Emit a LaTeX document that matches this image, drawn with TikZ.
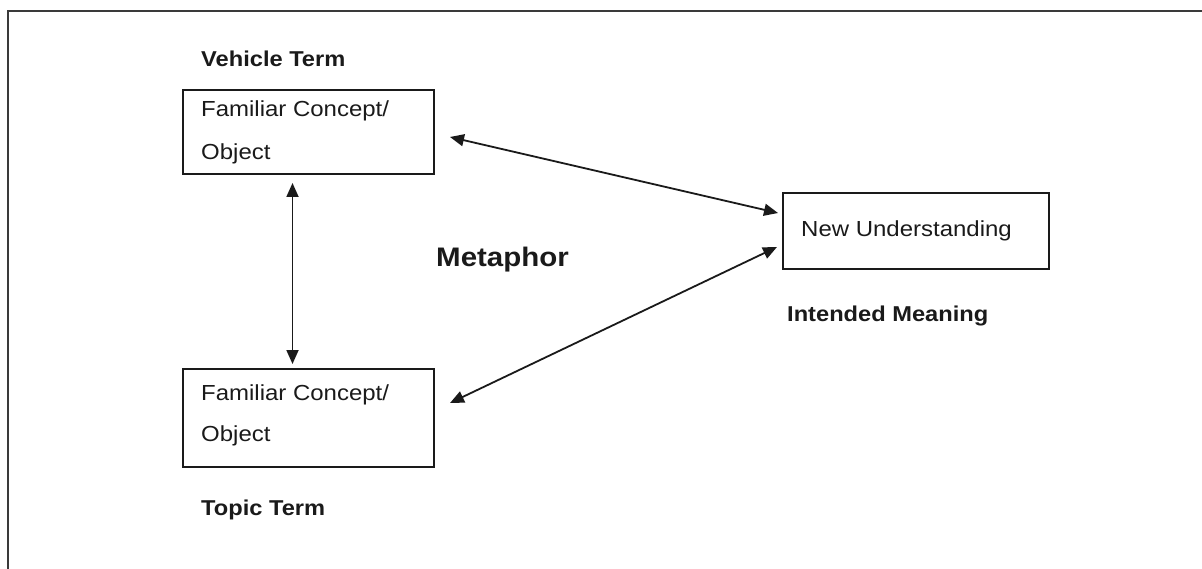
\documentclass[tikz,border=0pt]{standalone}
\usepackage{fontspec}
\setmainfont{Liberation Sans}[FakeStretch=1.1]
\usetikzlibrary{arrows.meta}
\definecolor{ink}{HTML}{1A1A1A}
\definecolor{frame}{HTML}{3A3A3A}
\begin{document}
\begin{tikzpicture}[x=1pt,y=-1pt,
  box/.style={draw=ink, line width=1.8pt, inner sep=0pt},
  txt/.style={inner sep=0pt, anchor=base west, text=ink, font=\fontsize{21.8}{26}\selectfont},
  lbl/.style={inner sep=0pt, anchor=base west, text=ink, font=\fontsize{21.5}{26}\selectfont\bfseries},
  big/.style={inner sep=0pt, anchor=base west, text=ink, font=\fontsize{26.8}{32}\selectfont\bfseries},
  arr/.style={draw=ink, line width=1.8pt, {Triangle[length=14pt,width=12pt]}-{Triangle[length=14pt,width=12pt]}}]
\useasboundingbox (0,0) rectangle (1202,569);
% outer frame (only top and left edges visible)
\draw[frame, line width=1.8pt] (8,569) -- (8,11) -- (1202,11);
% boxes
\node[box, minimum width=251pt, minimum height=84pt] (vbox) at (308.5,132) {};
\node[box, minimum width=251pt, minimum height=98pt] (tbox) at (308.5,418) {};
\node[box, minimum width=266pt, minimum height=76pt] (nbox) at (916,231) {};
% texts
\node[lbl] (vterm) at (201,67) {Vehicle Term};
\node[txt] (v1) at (201,117) {Familiar Concept/};
\node[txt] (v2) at (201,160) {Object};
\node[txt] (t1) at (201,400) {Familiar Concept/};
\node[txt] (t2) at (201,441) {Object};
\node[lbl] (tterm) at (201,515) {Topic Term};
\node[txt] (n1) at (801,237) {New Understanding};
\node[lbl] (imean) at (787,322) {Intended Meaning};
\node[big] (meta) at (436,267) {Metaphor};
% connector ends
\coordinate (vs) at (292.5,183);
\coordinate (tn) at (292.5,364);
\coordinate (ve) at (450,137);
\coordinate (nw1) at (778,213);
\coordinate (te) at (450,403);
\coordinate (nw2) at (777,247);
% arrows
\draw[arr] (vs) -- (tn);
\draw[arr] (ve) -- (nw1);
\draw[arr] (te) -- (nw2);
\end{tikzpicture}
\end{document}
